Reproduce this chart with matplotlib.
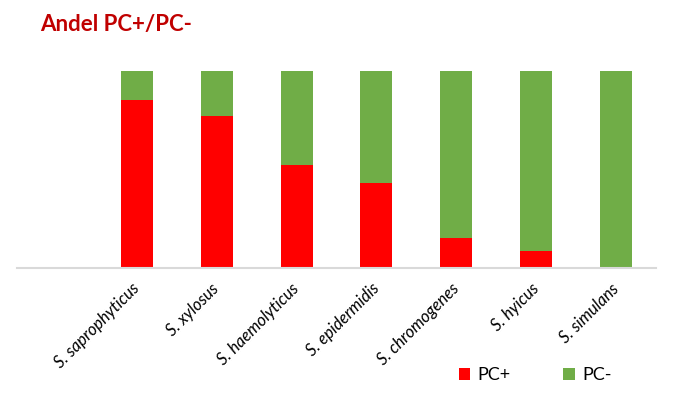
import matplotlib
matplotlib.use('Agg')
import matplotlib.pyplot as plt
import numpy as np

plt.rcParams['font.family'] = ['Lato', 'DejaVu Sans']

species = ['', 'S. saprophyticus', 'S. xylosus', 'S. haemolyticus', 'S. epidermidis',
           'S. chromogenes', 'S. hyicus', 'S. simulans']
pc_pos = [0, 85.2, 77.1, 52.2, 43.0, 15.0, 8.4, 0.0]
pc_neg = [0, 14.8, 22.9, 47.8, 57.0, 85.0, 91.6, 100.0]

red = '#FF0000'
green = '#70AD47'

fig = plt.figure(figsize=(6.78, 3.95), dpi=100)
ax = fig.add_axes([17 / 678, 127 / 395, 639 / 678, 197 / 395])

x = np.arange(len(species))
ax.bar(x, pc_pos, width=0.4, color=red, label='PC+')
ax.bar(x, pc_neg, width=0.4, bottom=pc_pos, color=green, label='PC-')

ax.set_xlim(-0.5, len(species) - 0.5)
ax.set_ylim(0, 100)
ax.set_yticks([])
for s in ['top', 'right', 'left']:
    ax.spines[s].set_visible(False)
ax.spines['bottom'].set_color('#D9D9D9')
ax.spines['bottom'].set_linewidth(1.5)

ax.set_xticks(x)
ax.set_xticklabels(species, rotation=45, ha='right', va='center',
                   rotation_mode='anchor', fontsize=12, style='italic', color='#000000')
ax.tick_params(axis='x', length=0, pad=13)

fig.text(40 / 678, 1 - 24 / 395, 'Andel PC+/PC-', color='#C00000', fontsize=16,
         fontweight='bold', va='center', ha='left')

fig.legend(loc='center', bbox_to_anchor=(535 / 678, 1 - 375 / 395), ncol=2, frameon=False,
           fontsize=13, handlelength=0.65, handleheight=0.65, columnspacing=2.9,
           handletextpad=0.4)

fig.savefig('out.png', dpi=100)
